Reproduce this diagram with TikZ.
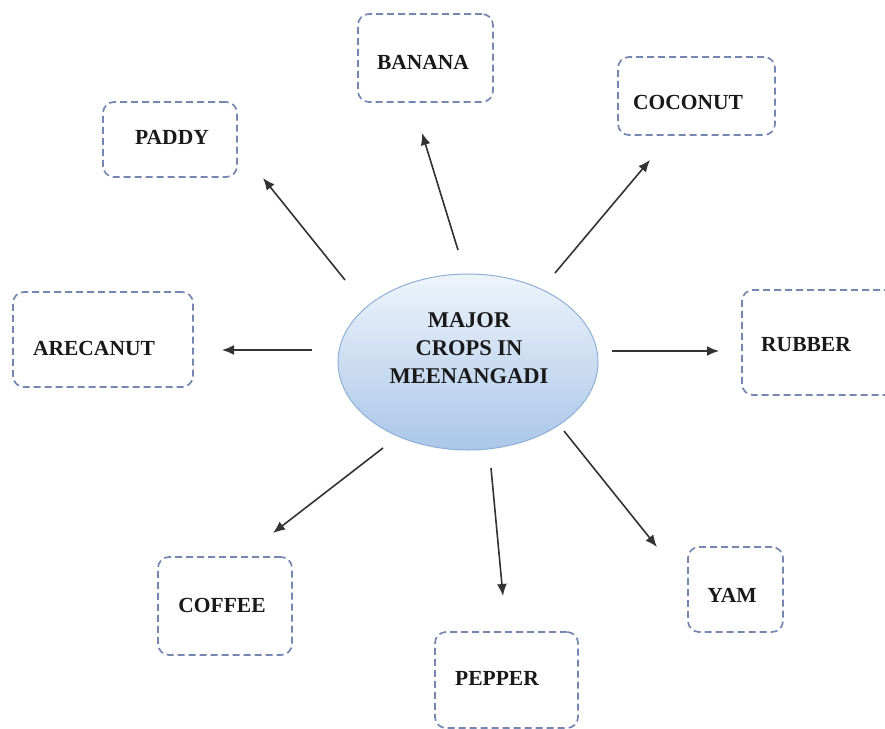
\documentclass[tikz,border=0pt]{standalone}
\usepackage{fontspec}
\setmainfont{Liberation Serif}
\usetikzlibrary{arrows.meta,shapes.geometric}
\definecolor{boxc}{HTML}{7587B0}
\definecolor{linec}{HTML}{333333}
\definecolor{ellb}{HTML}{8FB0D8}
\definecolor{elltop}{HTML}{EEF4FB}
\definecolor{ellbot}{HTML}{AAC6E8}
\begin{document}
\begin{tikzpicture}[x=1pt,y=-1pt,
  cropbox/.style={draw=boxc, dash pattern=on 7pt off 4pt, line width=1.7pt, rounded corners=11pt, inner sep=0pt},
  lab/.style={font=\fontsize{21.5}{25}\selectfont\bfseries, inner sep=0pt, text=black!90},
  arr/.style={draw=linec, line width=1.6pt, -{Latex[length=12pt,width=10pt]}}]
\fill[white] (0,0) rectangle (885,728);
\useasboundingbox (0,0) rectangle (885,728);

% hub
\node[ellipse, minimum width=260pt, minimum height=176pt, draw=ellb, line width=1pt,
      top color=elltop, bottom color=ellbot] (hub) at (468,362) {};
\node[font=\fontsize{22.5}{28}\selectfont\bfseries, align=center, inner sep=0pt, text=black!90] (hubt) at (469,348)
  {MAJOR\\CROPS IN\\MEENANGADI};

% boxes
\node[cropbox, minimum width=135pt, minimum height=88pt] (banana) at (425.5,58) {};
\node[lab] (bananat) at (423,62) {BANANA};
\node[cropbox, minimum width=157pt, minimum height=78pt] (coconut) at (696.5,96) {};
\node[lab] (coconutt) at (688,102) {COCONUT};
\node[cropbox, minimum width=134pt, minimum height=75pt] (paddy) at (170,139.5) {};
\node[lab] (paddyt) at (172,137) {PADDY};
\node[cropbox, minimum width=180pt, minimum height=95pt] (arecanut) at (103,339.5) {};
\node[lab] (arecanutt) at (94,348) {ARECANUT};
\node[cropbox, minimum width=160pt, minimum height=105pt] (rubber) at (822,342.5) {};
\node[lab] (rubbert) at (806,345) {RUBBER};
\node[cropbox, minimum width=134pt, minimum height=98pt] (coffee) at (225,606) {};
\node[lab] (coffeet) at (222,605) {COFFEE};
\node[cropbox, minimum width=143pt, minimum height=96pt] (pepper) at (506.5,680) {};
\node[lab] (peppert) at (497,678) {PEPPER};
\node[cropbox, minimum width=95pt, minimum height=85pt] (yam) at (735.5,589.5) {};
\node[lab] (yamt) at (732,595) {YAM};

% arrow ends
\coordinate (paddyA) at (345,280);   \coordinate (paddyB) at (263,178);
\coordinate (bananaA) at (458,250);  \coordinate (bananaB) at (422,133);
\coordinate (coconutA) at (555,273); \coordinate (coconutB) at (650,160);
\coordinate (arecanutA) at (312,350);\coordinate (arecanutB) at (222,350);
\coordinate (rubberA) at (612,351);  \coordinate (rubberB) at (719,351);
\coordinate (coffeeA) at (383,448);  \coordinate (coffeeB) at (273,533);
\coordinate (pepperA) at (491,468);  \coordinate (pepperB) at (503,596);
\coordinate (yamA) at (564,431);     \coordinate (yamB) at (657,547);

\foreach \c in {paddy,banana,coconut,arecanut,rubber,coffee,pepper,yam}
  \draw[arr] (\c A) -- (\c B);
\end{tikzpicture}
\end{document}
